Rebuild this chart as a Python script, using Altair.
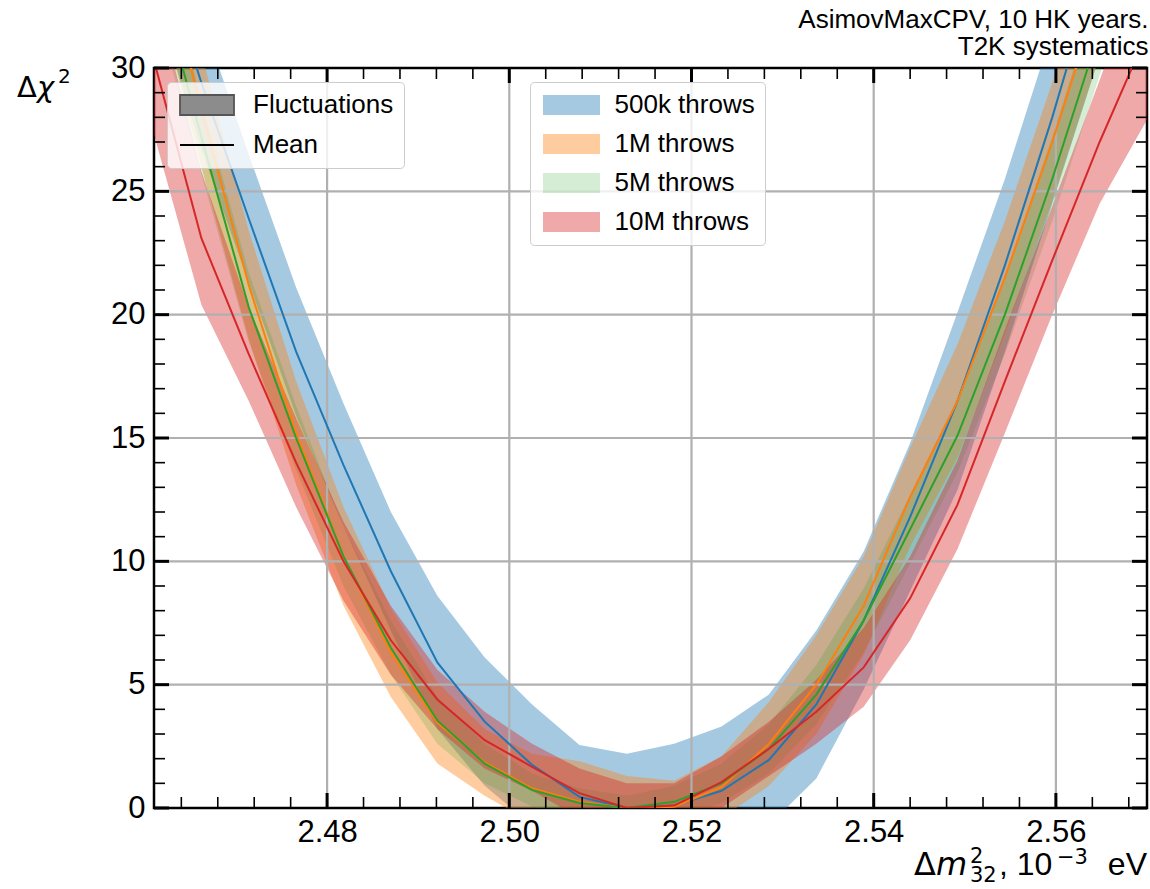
import altair as alt
import pandas as pd

# ---------------- data ----------------
x_vals = [2.4610, 2.4662, 2.4714, 2.4766, 2.4818, 2.4870, 2.4921, 2.4973, 2.5025, 2.5077, 2.5129,
          2.5181, 2.5233, 2.5285, 2.5337, 2.5389, 2.5440, 2.5492, 2.5544, 2.5596, 2.5648, 2.5700]

series_names = ["500k throws", "1M throws", "5M throws", "10M throws"]
line_colors = ["#1f77b4", "#ff7f0e", "#2ca02c", "#d62728"]
band_colors = ["rgba(31,119,180,0.4)", "rgba(255,127,14,0.4)", "rgba(44,160,44,0.2)", "rgba(214,39,40,0.4)"]

mean_500k = [35.5, 29.4, 23.9, 18.5, 13.9, 9.6, 5.9, 3.5, 1.75, 0.45, 0.0, 0.1, 0.7, 1.95, 4.2, 7.6, 11.8, 16.5, 22.0, 28.0, 34.5, 41.0]
hi_500k = [38.0, 32.1, 26.5, 21.1, 16.4, 12.0, 8.6, 6.1, 4.2, 2.55, 2.2, 2.6, 3.3, 4.6, 7.2, 10.4, 14.8, 20.1, 25.5, 31.5, 38.0, 45.0]
lo_500k = [33.0, 26.7, 21.3, 15.9, 11.4, 7.2, 3.2, 0.9, -0.7, -1.65, -2.2, -2.4, -1.9, -0.7, 1.2, 4.8, 8.8, 12.9, 18.5, 24.5, 30.5, 37.0]

mean_1m = [36.0, 28.3, 21.2, 15.2, 10.2, 6.3, 3.45, 1.85, 0.8, 0.25, 0.0, 0.05, 0.85, 2.6, 5.0, 8.2, 12.6, 16.5, 21.5, 27.0, 33.0, 39.0]
hi_1m = [38.5, 30.6, 23.4, 17.3, 12.2, 8.1, 5.1, 3.2, 2.2, 1.9, 1.3, 1.1, 2.1, 4.3, 7.0, 10.2, 14.6, 18.8, 23.8, 29.4, 35.5, 41.5]
lo_1m = [33.5, 26.0, 19.0, 13.1, 8.2, 4.5, 1.8, 0.5, -0.6, -1.4, -1.3, -1.0, -0.4, 0.9, 3.0, 6.2, 10.6, 14.2, 19.2, 24.6, 30.5, 36.5]

mean_5m = [34.3, 27.2, 20.3, 15.0, 10.2, 6.5, 3.55, 1.8, 0.73, 0.2, 0.0, 0.25, 1.0, 2.4, 4.6, 7.6, 11.3, 15.1, 20.0, 25.5, 31.5, 37.5]
hi_5m = [36.0, 28.7, 21.7, 16.3, 11.4, 7.6, 4.5, 2.6, 1.4, 0.8, 0.5, 0.9, 1.8, 3.4, 5.8, 8.9, 12.7, 16.6, 21.6, 27.2, 33.3, 39.5]
lo_5m = [32.6, 25.7, 18.9, 13.7, 9.0, 5.4, 2.6, 1.0, 0.06, -0.4, -0.5, -0.4, 0.2, 1.4, 3.4, 6.3, 9.9, 13.6, 18.4, 23.8, 29.7, 35.5]

mean_10m = [30.3, 23.1, 18.4, 14.0, 10.0, 6.8, 4.4, 2.75, 1.67, 0.6, 0.0, 0.1, 1.05, 2.4, 3.9, 5.7, 8.5, 12.3, 17.3, 22.2, 27.0, 31.4]
hi_10m = [33.3, 25.8, 20.3, 15.8, 11.6, 8.2, 5.6, 3.9, 2.6, 1.6, 1.0, 1.0, 2.1, 3.5, 5.2, 7.3, 10.2, 14.1, 19.4, 24.4, 29.5, 34.9]
lo_10m = [27.3, 20.4, 16.5, 12.2, 8.4, 5.4, 3.2, 1.6, 0.7, -0.4, -1.0, -0.8, 0.0, 1.3, 2.6, 4.1, 6.8, 10.5, 15.2, 20.0, 24.5, 27.9]

means = [mean_500k, mean_1m, mean_5m, mean_10m]
his = [hi_500k, hi_1m, hi_5m, hi_10m]
los = [lo_500k, lo_1m, lo_5m, lo_10m]

x_major = [2.48, 2.50, 2.52, 2.54, 2.56]
x_minor = [2.464, 2.468, 2.472, 2.476, 2.484, 2.488, 2.492, 2.496, 2.504, 2.508, 2.512, 2.516,
           2.524, 2.528, 2.532, 2.536, 2.544, 2.548, 2.552, 2.556, 2.564, 2.568]
y_major = [0, 5, 10, 15, 20, 25, 30]
y_minor = [1, 2, 3, 4, 6, 7, 8, 9, 11, 12, 13, 14, 16, 17, 18, 19, 21, 22, 23, 24, 26, 27, 28, 29]
y_grid = [5, 10, 15, 20, 25]

legend_kinds = ["Fluctuations", "Mean"]
annotation = ["AsimovMaxCPV, 10 HK years.", "T2K systematics"]
xlabel_parts = ["Δ", "m", "2", "32", ", 10", "−3", "eV"]
ylabel_parts = ["Δ", "χ", "2"]

rows = []
for name, m, lo, hi in zip(series_names, means, los, his):
    for xi, mi, li, hv in zip(x_vals, m, lo, hi):
        rows.append({"x": xi, "mean": mi, "lo": li, "hi": hv, "series": name})
df = pd.DataFrame(rows)

# ---------------- layout ----------------
W, H = 993, 740
FONT = "Liberation Sans"
MATH = "DejaVu Sans"

x_scale = alt.Scale(domain=[2.461, 2.570], nice=False, zero=False)
y_scale = alt.Scale(domain=[0, 30], nice=False, zero=False)

x_axis = alt.Axis(values=x_major, format=".2f", ticks=False, tickSize=0, domain=False, grid=False,
                  labelFontSize=31, labelPadding=9, labelFont=FONT, labelColor="black", title=None)
y_axis = alt.Axis(values=y_major, ticks=False, tickSize=0, domain=False, grid=False,
                  labelFontSize=31, labelPadding=9, labelFont=FONT, labelColor="black", title=None)


def X(field):
    return alt.X(f"{field}:Q", scale=x_scale, axis=x_axis)


def Y(field):
    return alt.Y(f"{field}:Q", scale=y_scale, axis=y_axis)


band_legend = alt.Legend(title=None, orient="none", legendX=376, legendY=14,
                         symbolType="M-2.85,-1H2.85V1H-2.85Z", symbolSize=400, symbolStrokeWidth=0,
                         symbolOffset=18.5,
                         labelFontSize=26, labelFont=FONT, labelColor="black", labelOffset=30,
                         rowPadding=13, padding=10, strokeColor="#cccccc",
                         fillColor="rgba(255,255,255,0.8)", cornerRadius=4, labelLimit=400)

kind_legend = alt.Legend(title=None, orient="none", legendX=13, legendY=14,
                         symbolSize=400, symbolStrokeWidth=1.8, symbolOffset=17,
                         labelFontSize=26, labelFont=FONT, labelColor="black", labelOffset=33,
                         rowPadding=13, padding=10, strokeColor="#cccccc",
                         fillColor="rgba(255,255,255,0.8)", cornerRadius=4, labelLimit=400)

fill_scale = alt.Scale(domain=series_names, range=band_colors)

band_layers = []
for name in series_names:
    band_layers.append(
        alt.Chart(df).transform_filter(alt.datum.series == name)
        .mark_area(clip=True, opacity=1, strokeWidth=0)
        .encode(x=X("x"), y=Y("lo"), y2="hi:Q",
                fill=alt.Fill("series:N", scale=fill_scale, legend=band_legend))
    )
bands = alt.layer(*band_layers)

grid_x = alt.Chart(pd.DataFrame({"v": x_major})).mark_rule(color="#b0b0b0", strokeWidth=2.2).encode(x=X("v"))
grid_y = alt.Chart(pd.DataFrame({"v": y_grid})).mark_rule(color="#b0b0b0", strokeWidth=2.2).encode(y=Y("v"))

lines = alt.Chart(df).mark_line(clip=True, strokeWidth=2).encode(
    x=X("x"), y=Y("mean"),
    stroke=alt.Stroke("series:N", scale=alt.Scale(domain=series_names, range=line_colors), legend=None),
)

df_kind = pd.DataFrame({"kind": legend_kinds, "x": [float("nan")] * 2, "y": [float("nan")] * 2})
dummy = alt.Chart(df_kind).mark_point(filled=True, clip=True, opacity=1).encode(
    x=X("x"), y=Y("y"),
    shape=alt.Shape("kind:N", scale=alt.Scale(domain=legend_kinds,
                                              range=["M-2.7,-1H2.7V1H-2.7Z", "M-2.7,0H2.7"]),
                    legend=kind_legend),
    fill=alt.Fill("kind:N", scale=alt.Scale(domain=legend_kinds, range=["#8c8c8c", "#000000"]), legend=kind_legend),
    stroke=alt.Stroke("kind:N", scale=alt.Scale(domain=legend_kinds, range=["#555555", "#000000"]), legend=kind_legend),
)


def hticks(vals, length, width, top):
    d = pd.DataFrame({"v": vals})
    if top:
        return alt.Chart(d).mark_rule(color="black", strokeWidth=width).encode(
            x=X("v"), y=alt.value(0), y2=alt.value(length))
    return alt.Chart(d).mark_rule(color="black", strokeWidth=width).encode(
        x=X("v"), y=alt.value(H), y2=alt.value(H - length))


def vticks(vals, length, width, right):
    d = pd.DataFrame({"v": vals})
    if right:
        return alt.Chart(d).mark_rule(color="black", strokeWidth=width).encode(
            y=Y("v"), x=alt.value(W - length), x2=alt.value(W))
    return alt.Chart(d).mark_rule(color="black", strokeWidth=width).encode(
        y=Y("v"), x=alt.value(0), x2=alt.value(length))


ticks = [
    hticks(x_major, 15, 3, False), hticks(x_major, 15, 3, True),
    hticks(x_minor, 11, 1.6, False), hticks(x_minor, 11, 1.6, True),
    vticks(y_major, 15, 3, False), vticks(y_major, 15, 3, True),
    vticks(y_minor, 11, 1.6, False), vticks(y_minor, 11, 1.6, True),
]


def text_piece(txt, px, py, size, font, style="normal", align="left"):
    return alt.Chart(pd.DataFrame({"t": [txt]})).mark_text(
        font=font, fontSize=size, fontStyle=style, align=align, baseline="alphabetic", color="black"
    ).encode(text="t:N", x=alt.value(px), y=alt.value(py))


# axis titles built from pieces (math italic, super/subscripts)
xlabel_layers = [
    text_piece(xlabel_parts[0], 760, 807, 32, MATH),
    text_piece(xlabel_parts[1], 782, 807, 32, MATH, "italic"),
    text_piece(xlabel_parts[2], 816, 795, 21, MATH),
    text_piece(xlabel_parts[3], 816, 814, 21, MATH),
    text_piece(xlabel_parts[4], 845, 807, 32, FONT),
    text_piece(xlabel_parts[5], 903, 796, 21, MATH),
    text_piece(xlabel_parts[6], W, 807, 32, FONT, align="right"),
]
ylabel_layers = [
    text_piece(ylabel_parts[0], -137, 29, 29, MATH),
    text_piece(ylabel_parts[1], -117, 29, 29, MATH, "italic"),
    text_piece(ylabel_parts[2], -96, 15, 20, MATH),
]

chart = alt.layer(bands, grid_x, grid_y, lines, dummy, *ticks, *xlabel_layers, *ylabel_layers).resolve_scale(
    fill="independent", stroke="independent", shape="independent"
).properties(
    width=W, height=H,
    padding={"left": 154, "top": 68, "right": 3, "bottom": 81},
    autosize=alt.AutoSizeParams(type="none"),
    title=alt.TitleParams(text=annotation, anchor="end", fontSize=26, font=FONT, fontWeight="normal",
                          color="black", lineHeight=27, offset=8, dy=16),
    background="white",
).configure_view(stroke="black", strokeWidth=2.5)

chart.save("out.html", embed_options={"renderer": "svg", "actions": False})
